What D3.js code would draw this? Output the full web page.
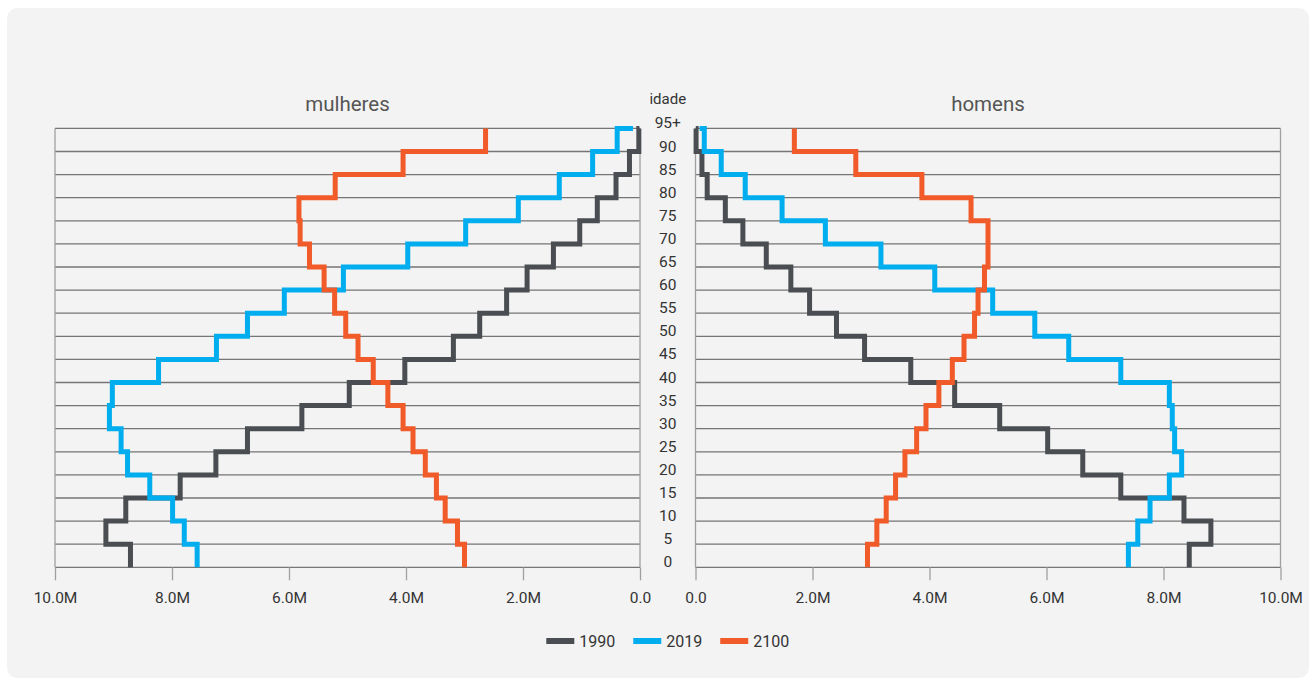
<!DOCTYPE html>
<html><head><meta charset="utf-8">
<script src="https://cdn.jsdelivr.net/npm/d3@7"></script>
<style>body{margin:0;background:#fff;font-family:Roboto,sans-serif;} svg{display:block}</style>
</head><body>
<svg id="c" width="1316" height="679"></svg>
<script>
const ages = ["0","5","10","15","20","25","30","35","40","45","50","55","60","65","70","75","80","85","90","95+"];
const years = ["1990","2019","2100"];
// values in millions, index 0 = 0-4 ... 19 = 95+
const women1990 = [8.71,9.13,8.79,7.86,7.25,6.71,5.78,4.97,4.02,3.19,2.74,2.28,1.93,1.48,1.03,0.73,0.41,0.18,0.02,0.01];
const women2019 = [7.57,7.79,7.99,8.38,8.76,8.87,9.07,9.02,8.23,7.24,6.71,6.08,5.07,3.97,2.98,2.08,1.38,0.81,0.39,0.12];
const women2100 = [3.00,3.12,3.33,3.48,3.67,3.88,4.05,4.31,4.56,4.82,5.03,5.22,5.40,5.65,5.81,5.83,5.21,4.05,2.64,2.64];
const men1990 = [8.44,8.81,8.35,7.27,6.62,6.02,5.20,4.43,3.68,2.89,2.41,1.95,1.63,1.21,0.81,0.51,0.20,0.11,0.01,0.005];
const men2019 = [7.40,7.56,7.77,8.10,8.31,8.19,8.15,8.10,7.27,6.38,5.80,5.08,4.09,3.17,2.22,1.48,0.85,0.44,0.15,0.07];
const men2100 = [2.94,3.10,3.26,3.42,3.58,3.78,3.94,4.16,4.39,4.59,4.77,4.83,4.94,5.00,5.00,4.71,3.87,2.74,1.69,1.69];
const tickValues = [0,2,4,6,8,10];
const tickLabels = ["0.0","2.0M","4.0M","6.0M","8.0M","10.0M"];
const colors = ["#4a4d51","#00aeef","#f15a29"];

const svg = d3.select("#c");
svg.append("rect").attr("x",7).attr("y",8).attr("width",1302).attr("height",670).attr("rx",10).attr("fill","#f3f3f3");

const y = d3.scalePoint().domain(ages).range([567.3,128.4]);
const xL = d3.scaleLinear().domain([0,10]).range([640,55]);
const xR = d3.scaleLinear().domain([0,10]).range([695.5,1280.5]);

function panel(x, series, title) {
  const g = svg.append("g");
  g.selectAll("line.grid").data(ages).join("line").attr("class","grid")
    .attr("x1",x(10)).attr("x2",x(0)).attr("y1",d=>y(d)).attr("y2",d=>y(d))
    .attr("stroke","#757575").attr("stroke-width",1.3);
  [0,10].forEach(v=> g.append("line").attr("x1",x(v)).attr("x2",x(v))
    .attr("y1",y("95+")).attr("y2",y("0")).attr("stroke","#a0a0a0").attr("stroke-width",1.3));
  const ax = g.append("g").attr("transform",`translate(0,${y("0")})`)
    .call(d3.axisBottom(x).tickValues(tickValues).tickFormat((d,i)=>tickLabels[i]).tickSize(13).tickPadding(12));
  ax.select(".domain").remove();
  ax.selectAll(".tick line").attr("stroke","#a0a0a0").attr("stroke-width",1.3);
  ax.selectAll(".tick text").attr("fill","#333").style("font-size","15.5px").style("font-family","Roboto");
  const line = d3.line().x(d=>x(d.v)).y(d=>y(d.a)).curve(d3.curveStepBefore);
  series.forEach((s,k)=>{
    g.append("path").datum(s.map((v,i)=>({v:v,a:ages[i]})))
      .attr("d",line).attr("fill","none").attr("stroke",colors[k]).attr("stroke-width",5)
      .attr("stroke-linejoin","miter").attr("stroke-linecap","butt");
  });
  g.append("text").attr("x",(x(0)+x(10))/2).attr("y",111).attr("text-anchor","middle")
    .attr("fill","#555").style("font-size","20.5px").style("font-family","Roboto").text(title);
}
panel(xL,[women1990,women2019,women2100],"mulheres");
panel(xR,[men1990,men2019,men2100],"homens");

const cx = (xL(0)+xR(0))/2;
svg.append("text").attr("x",cx).attr("y",104).attr("text-anchor","middle").attr("fill","#333")
  .style("font-size","15px").style("font-family","Roboto").text("idade");
svg.append("g").selectAll("text").data(ages).join("text")
  .attr("x",cx).attr("y",d=>y(d)).attr("text-anchor","middle").attr("fill","#333")
  .style("font-size","15.5px").style("font-family","Roboto").text(d=>d);

// legend
const lg = svg.append("g");
let xo = 0;
years.forEach((yr,k)=>{
  const it = lg.append("g").attr("transform",`translate(${xo},0)`);
  it.append("rect").attr("x",0).attr("y",-3).attr("width",28).attr("height",6).attr("fill",colors[k]);
  const t = it.append("text").attr("x",33).attr("y",5.8).attr("fill","#333")
    .style("font-size","16px").style("font-family","Roboto").text(yr);
  xo += 33 + t.node().getComputedTextLength() + 18;
});
const lw = xo - 18;
lg.attr("transform",`translate(${cx - lw/2},641)`);
</script>
</body></html>
